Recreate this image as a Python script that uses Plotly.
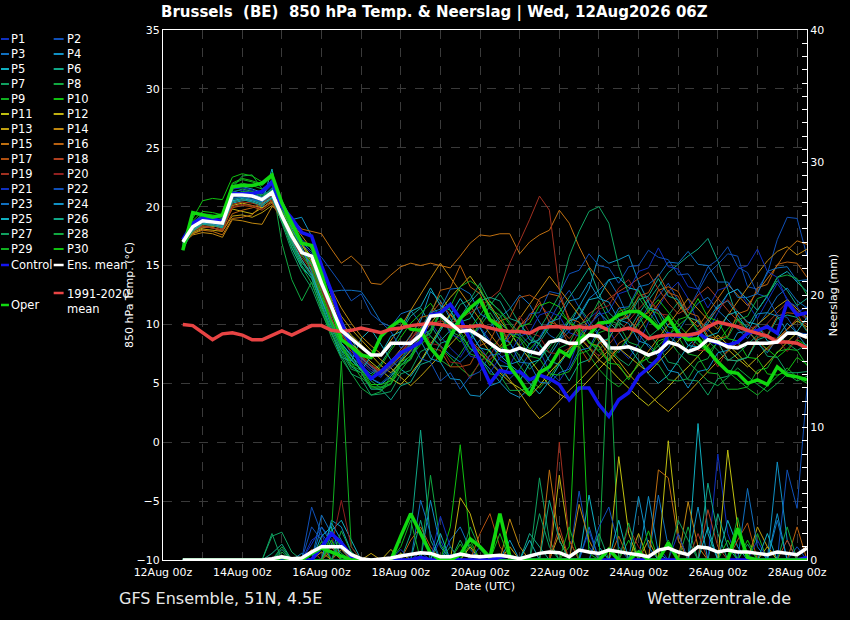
import pandas as pd
import plotly.graph_objects as go

# GFS 06Z run, 6-hourly steps from 12Aug 12z to 28Aug 06z
times = pd.date_range("2026-08-12 12:00", periods=64, freq="6h")

# ---- highlighted series (850 hPa temp, degC) ----
ens_mean = [17.0, 18.3, 18.8, 18.7, 18.6, 21.0, 21.0, 20.9,
            20.6, 21.2, 19.2, 17.5, 16.1, 15.8, 13.5, 11.5,
            9.5, 8.8, 8.1, 7.4, 7.4, 8.4, 8.4, 8.4,
            9.1, 10.7, 10.8, 10.1, 9.4, 9.5, 9.0, 8.4,
            7.8, 7.7, 8.0, 7.7, 7.5, 8.5, 8.7, 8.4,
            8.4, 9.1, 9.0, 8.0, 8.0, 8.1, 7.8, 7.4,
            7.7, 8.5, 8.25, 7.7, 8.0, 8.7, 8.5, 8.1,
            8.0, 8.4, 8.4, 8.4, 8.5, 9.25, 9.25, 8.9]
control = [17.2, 18.6, 19.0, 19.0, 18.7, 21.1, 21.1, 21.1,
           21.3, 22.1, 20.0, 19.0, 17.8, 17.5, 15.0, 12.8,
           10.2, 8.2, 6.5, 5.4, 6.0, 6.8, 7.6, 8.0,
           8.5, 10.8, 11.0, 11.7, 10.5, 8.7, 6.9, 5.0,
           6.1, 5.9, 6.0, 5.3, 5.7, 5.4, 4.9, 3.6,
           4.6, 4.6, 3.2, 2.2, 3.6, 4.2, 5.6, 6.3,
           7.1, 9.2, 9.0, 9.0, 9.3, 8.7, 8.4, 8.25,
           8.5, 9.25, 9.5, 9.8, 9.25, 11.9, 10.8, 11.0]
oper = [16.3, 19.5, 19.3, 19.1, 19.3, 21.7, 21.8, 21.8,
        22.0, 22.7, 20.3, 18.6, 16.9, 16.7, 14.3, 11.5,
        8.7, 8.1, 7.4, 7.2, 9.0, 9.8, 10.4, 9.6,
        9.5, 8.0, 7.0, 9.0, 10.5, 11.4, 12.1, 10.4,
        9.8, 6.4, 5.3, 4.0, 5.9, 6.4, 7.8, 7.3,
        8.8, 9.1, 10.1, 10.2, 10.8, 11.1, 11.1, 10.5,
        9.7, 10.6, 9.25, 8.7, 8.8, 7.8, 6.8, 6.0,
        5.85, 5.0, 5.3, 4.9, 6.4, 5.7, 5.55, 5.3]
clim_1991_2020 = [10.0, 9.9, 9.3, 8.7, 9.2, 9.3, 9.1, 8.7,
                  8.7, 9.1, 9.45, 9.1, 9.5, 9.9, 9.9, 9.5,
                  9.4, 9.5, 9.7, 9.5, 9.3, 9.6, 9.7, 9.9,
                  10.0, 10.1, 10.0, 9.8, 9.8, 9.8, 9.9, 9.7,
                  9.5, 9.4, 9.4, 9.25, 9.7, 9.8, 9.8, 9.7,
                  9.8, 9.7, 9.9, 9.5, 9.5, 9.7, 9.4, 8.8,
                  9.0, 9.1, 9.1, 9.1, 9.25, 9.8, 10.2, 10.0,
                  9.8, 9.5, 9.25, 9.0, 8.5, 8.5, 8.4, 8.0]

# ---- highlighted precipitation (mm / 6h) ----
mean_rain = [0, 0, 0, 0, 0, 0, 0, 0,
             0, 0.1, 0.25, 0.1, 0.15, 0.6, 1.0, 1.0,
             1.0, 0.4, 0.1, 0, 0.05, 0.15, 0.3, 0.45,
             0.55, 0.5, 0.25, 0.25, 0.45, 0.3, 0.25, 0.3,
             0.35, 0.25, 0.1, 0.3, 0.5, 0.6, 0.55, 0.25,
             0.75, 0.6, 0.5, 0.75, 0.6, 0.5, 0.4, 0.25,
             0.75, 0.9, 0.6, 0.4, 1.0, 0.9, 0.6, 0.75,
             0.6, 0.6, 0.5, 0.4, 0.6, 0.5, 0.4, 0.9]
control_rain = [0, 0, 0, 0, 0, 0, 0, 0,
                0, 0, 0, 0, 0, 0, 1.0, 2.0,
                1.3, 0.3, 0, 0, 0, 0, 0, 0,
                0.2, 0, 0, 0.3, 0, 0, 0, 0,
                0.2, 0.3, 0, 0, 0, 0, 0, 0,
                0, 0, 0, 0, 0, 0, 0, 0,
                0, 0, 0, 0, 0, 0, 0, 0,
                0, 0, 0, 0, 0, 0, 0, 0.2]
oper_rain = [0, 0, 0, 0, 0, 0, 0, 0,
             0, 0, 0.2, 0, 0, 0.5, 0.9, 0.6,
             0.3, 0, 0, 0, 0, 0, 1.8, 3.5,
             2.0, 0.5, 0, 0, 0.4, 1.6, 1.0, 0.2,
             3.5, 0.3, 0, 0, 0, 0, 0, 0,
             0, 0, 0, 0.8, 0, 0, 0.6, 0,
             0, 1.3, 0, 0, 0, 0, 0, 0,
             2.4, 0.2, 0, 0, 0, 0, 0, 0]

# ---- perturbation members, 850 hPa temp ----
p01 = [17.2, 18.6, 19.2, 19.0, 18.9, 21.3, 21.4, 21.2, 21.0, 21.8, 19.8, 18.0, 16.5, 15.0, 12.8, 11.0,
       9.0, 7.5, 6.8, 6.0, 5.5, 6.8, 7.5, 8.8, 9.5, 10.2, 9.0, 8.0, 7.2, 8.5, 9.8, 8.6,
       7.0, 6.5, 8.2, 9.0, 7.8, 6.0, 5.2, 6.5, 8.8, 10.5, 11.2, 9.6, 8.0, 7.1, 8.4, 10.2,
       11.5, 12.8, 13.6, 12.2, 10.1, 9.4, 11.0, 12.6, 13.0, 11.8, 10.5, 12.0, 13.5, 12.2, 11.0, 11.5]
p02 = [16.8, 18.2, 18.9, 18.8, 18.5, 20.8, 20.9, 20.7, 20.4, 21.0, 19.5, 17.8, 16.3, 15.4, 13.0, 10.6,
       8.2, 7.0, 6.1, 5.4, 5.0, 5.8, 6.9, 7.7, 8.4, 9.6, 10.8, 11.6, 10.4, 9.2, 8.0, 6.9,
       6.0, 5.4, 6.2, 7.5, 8.9, 10.3, 11.8, 12.9, 11.4, 10.0, 9.1, 8.3, 7.6, 8.8, 10.2, 11.5,
       12.4, 13.5, 12.0, 11.2, 12.8, 14.3, 15.1, 16.0, 15.8, 13.2, 13.0, 14.3, 17.2, 19.1, 19.0, 15.8]
p03 = [17.0, 18.0, 18.5, 18.4, 18.2, 20.5, 20.6, 20.4, 20.0, 20.8, 19.6, 18.4, 17.0, 16.2, 14.6, 12.8,
       12.9, 12.9, 12.8, 11.6, 10.2, 9.8, 10.9, 11.2, 10.1, 9.0, 8.2, 7.4, 6.8, 7.6, 8.7, 9.8,
       10.6, 11.3, 12.5, 11.7, 10.2, 9.1, 8.6, 9.4, 10.8, 12.2, 12.9, 13.8, 12.4, 10.5, 9.2, 8.1,
       7.3, 8.0, 9.4, 10.7, 11.8, 12.3, 11.2, 10.4, 9.6, 8.8, 9.9, 11.0, 12.4, 13.1, 12.0, 11.4]
p04 = [17.1, 18.5, 19.0, 18.9, 18.8, 21.5, 21.7, 21.5, 21.2, 22.3, 20.5, 18.9, 19.1, 17.5, 15.2, 12.5,
       10.4, 8.8, 7.2, 6.4, 6.0, 6.7, 7.9, 9.1, 10.3, 12.8, 12.0, 10.5, 9.1, 8.0, 7.1, 6.2,
       5.1, 4.2, 3.8, 4.6, 6.0, 7.3, 8.5, 9.9, 11.5, 13.0, 15.9, 15.2, 15.5, 15.9, 13.6, 11.9,
       10.2, 9.1, 8.3, 7.7, 8.9, 10.4, 11.6, 12.0, 10.8, 9.6, 8.4, 7.6, 8.9, 10.1, 9.3, 9.0]
p05 = [16.9, 18.1, 18.6, 18.5, 18.3, 20.3, 20.5, 20.6, 20.3, 23.2, 19.0, 16.5, 14.8, 14.0, 11.6, 9.3,
       7.2, 6.9, 8.8, 9.6, 8.3, 7.0, 6.2, 5.6, 6.8, 8.1, 9.5, 10.8, 12.2, 11.0, 9.7, 8.3,
       7.4, 6.6, 5.9, 5.0, 4.1, 5.2, 6.6, 7.8, 8.6, 9.9, 11.0, 10.2, 9.4, 8.1, 6.9, 5.8,
       5.0, 5.7, 6.9, 8.2, 9.0, 10.1, 11.4, 12.6, 13.0, 12.1, 11.2, 12.4, 14.0, 14.5, 13.6, 12.8]
p06 = [16.6, 18.0, 18.7, 18.6, 18.4, 20.9, 21.1, 20.8, 20.6, 21.1, 18.9, 17.0, 15.2, 14.6, 12.1, 10.0,
       8.4, 7.3, 6.5, 5.8, 6.7, 8.0, 9.3, 10.7, 11.4, 10.0, 8.6, 9.5, 10.6, 11.9, 12.8, 11.5,
       10.1, 9.4, 8.0, 7.2, 8.5, 9.8, 11.0, 12.3, 13.5, 14.8, 12.6, 11.0, 10.2, 9.5, 10.9, 12.0,
       13.2, 14.4, 15.1, 15.8, 16.4, 17.3, 15.4, 13.0, 10.4, 9.8, 11.2, 12.5, 13.7, 12.9, 11.6, 12.2]
p07 = [16.4, 17.9, 18.5, 18.5, 18.2, 20.6, 20.8, 20.6, 20.3, 20.9, 18.6, 16.2, 14.4, 13.1, 11.0, 9.2,
       7.8, 7.0, 6.1, 5.2, 4.6, 5.3, 6.8, 8.2, 9.6, 11.1, 12.5, 11.2, 9.8, 8.7, 10.1, 11.6,
       12.7, 11.5, 10.0, 9.1, 8.2, 7.6, 9.0, 10.3, 11.5, 10.4, 9.2, 8.0, 7.1, 6.5, 7.7, 8.9,
       9.6, 10.8, 11.9, 10.7, 9.5, 8.6, 7.8, 6.9, 7.5, 8.3, 9.1, 10.0, 9.2, 8.4, 7.8, 8.3]
p08 = [16.3, 18.2, 19.1, 19.0, 19.2, 21.6, 22.6, 22.7, 21.5, 22.0, 16.9, 13.8, 12.0, 13.6, 11.2, 8.9,
       7.1, 5.8, 4.6, 4.0, 4.3, 5.6, 7.0, 8.4, 9.5, 8.2, 7.0, 6.4, 7.5, 8.8, 9.9, 11.0,
       9.7, 8.4, 7.3, 6.2, 7.0, 8.1, 9.2, 10.5, 9.4, 8.6, 7.8, 8.9, 10.0, 11.2, 12.3, 11.1,
       9.9, 8.7, 7.6, 6.8, 6.0, 5.2, 4.8, 5.5, 6.3, 5.6, 4.9, 4.3, 5.0, 5.8, 5.2, 5.6]
p09 = [16.5, 18.6, 19.4, 19.3, 19.1, 21.9, 22.3, 22.1, 21.8, 22.5, 20.0, 17.9, 16.2, 14.9, 12.3, 9.8,
       8.0, 6.7, 5.5, 4.8, 4.4, 5.0, 6.1, 7.2, 8.3, 9.0, 8.1, 7.2, 6.3, 5.6, 6.7, 7.9,
       8.8, 7.6, 6.5, 5.4, 4.6, 5.5, 6.8, 7.7, 8.5, 7.4, 6.2, 5.3, 4.7, 5.6, 6.5, 7.3,
       8.2, 9.0, 9.9, 10.6, 9.4, 8.1, 6.9, 6.0, 5.3, 4.6, 4.0, 4.8, 5.6, 6.3, 5.5, 5.0]
p10 = [16.6, 19.0, 20.5, 20.7, 20.6, 22.5, 22.8, 22.6, 22.1, 22.4, 20.2, 18.3, 16.8, 15.6, 13.1, 10.4,
       8.3, 7.1, 6.2, 5.6, 6.5, 7.8, 8.9, 10.1, 10.9, 11.8, 10.6, 9.4, 8.5, 9.6, 10.8, 12.0,
       11.1, 10.0, 8.9, 7.9, 8.8, 9.9, 11.0, 10.2, 9.3, 8.5, 7.7, 6.9, 7.8, 8.9, 10.0, 11.2,
       12.1, 11.0, 10.0, 9.1, 8.3, 7.6, 8.5, 9.6, 10.5, 9.4, 8.6, 7.9, 7.2, 7.9, 8.7, 8.2]
p11 = [17.3, 18.0, 18.3, 18.2, 18.0, 20.1, 20.3, 20.1, 19.9, 20.4, 19.0, 17.6, 16.4, 15.1, 13.4, 11.2,
       9.5, 8.4, 7.6, 6.8, 6.1, 5.4, 4.9, 5.8, 6.9, 8.3, 9.7, 10.9, 9.8, 8.7, 7.5, 6.8,
       5.9, 5.1, 4.6, 3.9, 4.8, 5.9, 6.8, 7.9, 8.9, 8.0, 7.0, 6.3, 5.4, 4.6, 3.8, 3.1,
       3.9, 4.7, 5.6, 6.4, 7.3, 8.2, 9.1, 8.3, 7.5, 6.6, 5.8, 6.7, 7.6, 8.5, 9.3, 8.8]
p12 = [17.2, 17.8, 18.2, 18.3, 18.4, 19.8, 19.6, 19.4, 19.9, 20.5, 19.6, 18.2, 16.9, 15.7, 14.1, 12.0,
       10.2, 9.1, 8.3, 7.4, 6.5, 5.9, 6.8, 7.8, 8.9, 10.0, 11.1, 12.3, 13.2, 14.1, 12.9, 11.6,
       10.4, 9.3, 8.2, 7.0, 5.9, 4.8, 4.1, 3.6, 4.4, 5.3, 6.2, 7.1, 8.0, 7.3, 6.6, 5.9,
       6.8, 7.7, 8.6, 9.5, 10.4, 9.6, 8.7, 7.9, 7.1, 6.4, 7.2, 8.0, 8.8, 9.6, 10.3, 9.8]
p13 = [17.0, 17.7, 18.1, 18.0, 17.9, 19.2, 19.3, 19.1, 19.5, 20.1, 19.3, 18.0, 16.8, 15.3, 13.9, 12.2,
       10.7, 9.6, 8.7, 7.8, 7.0, 6.3, 5.5, 4.8, 5.6, 6.5, 7.4, 8.3, 9.2, 10.0, 8.8, 7.6,
       6.4, 5.3, 4.2, 3.0, 2.0, 2.6, 3.5, 4.4, 5.2, 6.1, 7.0, 7.8, 6.9, 5.8, 4.9, 4.1,
       3.3, 2.6, 3.4, 4.2, 5.1, 6.0, 6.9, 7.7, 8.5, 9.2, 10.0, 10.7, 11.5, 12.1, 11.3, 10.6]
p14 = [16.9, 17.6, 17.8, 17.7, 17.4, 18.9, 18.8, 18.6, 18.5, 20.0, 19.8, 18.7, 17.6, 16.4, 14.8, 13.0,
       11.4, 10.1, 9.0, 8.2, 7.5, 8.6, 9.8, 11.2, 12.6, 13.9, 15.2, 14.0, 12.8, 11.5, 10.3, 9.2,
       8.1, 9.3, 10.5, 11.8, 13.0, 14.1, 13.0, 11.9, 10.8, 9.6, 8.5, 7.4, 6.4, 5.5, 6.6, 7.8,
       8.9, 10.0, 11.1, 12.2, 11.3, 10.4, 9.6, 10.8, 12.0, 13.1, 14.3, 15.4, 16.2, 16.6, 15.9, 16.4]
p15 = [17.1, 17.7, 18.0, 17.9, 17.6, 19.0, 19.1, 19.3, 20.2, 21.0, 20.1, 19.0, 18.1, 17.9, 17.7, 16.4,
       15.2, 15.8, 15.0, 13.5, 13.4, 14.2, 14.9, 15.2, 15.0, 15.2, 15.0, 14.8, 15.8, 16.9, 17.6, 17.5,
       17.7, 17.7, 16.0, 17.0, 17.6, 18.0, 19.7, 18.6, 16.6, 14.9, 13.8, 12.7, 11.5, 10.4, 9.5, 10.6,
       11.8, 12.9, 11.7, 10.6, 9.8, 11.0, 12.3, 13.4, 12.5, 11.6, 12.8, 13.9, 15.0, 16.3, 17.1, 16.8]
p16 = [17.0, 17.9, 18.3, 18.2, 17.9, 19.4, 19.7, 19.9, 20.3, 20.7, 19.4, 17.8, 16.4, 15.0, 13.1, 11.0,
       9.2, 8.0, 7.1, 6.5, 6.0, 6.9, 7.9, 9.0, 10.6, 10.8, 12.9, 13.1, 15.0, 13.2, 12.6, 10.5,
       10.1, 8.3, 9.9, 10.5, 12.2, 12.6, 12.4, 10.5, 10.2, 8.4, 8.2, 6.9, 8.4, 8.9, 10.6, 11.0,
       12.9, 13.2, 12.8, 11.0, 10.7, 9.0, 8.8, 9.0, 10.9, 11.2, 13.1, 13.4, 15.1, 15.3, 15.2, 14.0]
p17 = [17.2, 18.1, 18.4, 18.2, 18.0, 19.9, 20.1, 20.0, 19.7, 20.3, 18.8, 17.0, 15.5, 14.3, 12.4, 10.5,
       8.8, 7.7, 6.9, 6.2, 5.7, 6.4, 7.3, 8.3, 9.6, 8.0, 7.8, 6.4, 6.4, 6.6, 8.2, 8.6,
       10.3, 10.6, 12.3, 12.5, 12.0, 10.2, 9.9, 8.2, 8.1, 6.8, 8.4, 8.7, 10.4, 10.7, 12.4, 12.7,
       14.3, 12.7, 12.4, 10.6, 10.3, 8.8, 8.5, 7.0, 6.9, 7.2, 8.9, 9.1, 10.7, 11.0, 10.9, 9.5]
p18 = [17.1, 18.0, 18.5, 18.4, 18.1, 20.2, 20.4, 20.3, 20.1, 20.6, 19.1, 17.3, 15.9, 14.9, 13.0, 11.1,
       9.4, 8.3, 7.4, 6.6, 6.0, 6.7, 7.6, 8.7, 9.8, 10.9, 11.9, 10.8, 9.7, 8.7, 7.8, 7.0,
       7.9, 8.9, 9.9, 10.8, 11.8, 10.7, 9.7, 8.8, 9.8, 10.9, 11.5, 12.2, 12.8, 13.3, 13.9, 14.4,
       13.0, 11.8, 10.9, 11.4, 12.5, 13.2, 12.2, 11.2, 10.3, 9.4, 8.6, 7.8, 8.7, 9.6, 10.5, 10.0]
p19 = [17.0, 17.9, 18.3, 18.2, 18.0, 20.0, 20.2, 20.1, 19.8, 20.5, 19.0, 17.2, 15.7, 14.6, 12.7, 10.8,
       9.1, 8.0, 7.1, 6.4, 5.8, 6.6, 7.5, 8.5, 9.5, 10.0, 10.3, 10.1, 10.5, 11.0, 11.5, 12.2,
       12.9, 15.2, 17.0, 18.9, 20.9, 19.7, 12.9, 10.2, 9.0, 8.1, 7.3, 8.3, 9.3, 10.3, 11.3, 12.2,
       11.2, 10.3, 9.4, 8.6, 9.5, 10.4, 11.3, 12.1, 11.1, 10.1, 9.2, 10.1, 11.0, 11.9, 11.1, 10.4]
p20 = [17.1, 18.2, 18.6, 18.5, 18.3, 20.4, 20.6, 20.5, 20.2, 20.9, 19.3, 17.5, 16.0, 14.7, 12.9, 11.0,
       9.3, 8.2, 7.3, 6.5, 5.9, 6.8, 7.7, 8.7, 10.0, 8.4, 8.2, 6.8, 6.7, 5.4, 6.9, 7.3,
       8.9, 9.2, 10.7, 9.3, 9.0, 7.6, 7.5, 8.0, 9.4, 9.7, 11.3, 11.6, 13.1, 13.8, 12.5, 12.3,
       10.9, 10.8, 9.3, 9.1, 7.8, 7.8, 6.4, 7.9, 8.2, 9.6, 9.9, 9.0, 8.8, 7.7, 8.8, 9.2]
p21 = [17.3, 18.7, 19.3, 19.2, 19.0, 21.5, 21.6, 21.4, 21.1, 21.9, 20.2, 18.4, 16.9, 16.0, 13.8, 11.3,
       9.4, 8.1, 7.0, 6.2, 5.6, 6.3, 7.1, 7.9, 9.1, 9.5, 11.0, 9.2, 8.8, 7.3, 7.1, 5.9,
       7.2, 7.5, 9.0, 9.3, 10.8, 11.1, 10.7, 9.3, 9.0, 9.9, 10.8, 11.1, 12.6, 12.9, 14.5, 14.8,
       16.5, 14.9, 14.7, 13.2, 13.0, 11.4, 12.9, 13.2, 14.7, 15.0, 16.4, 14.5, 14.0, 12.0, 11.5, 10.4]
p22 = [17.0, 18.4, 19.0, 18.9, 18.7, 21.1, 21.2, 21.0, 20.8, 21.5, 20.0, 18.6, 17.2, 16.5, 15.7, 14.5,
       13.4, 12.0, 12.6, 10.9, 10.2, 9.4, 8.0, 8.6, 7.1, 6.8, 5.2, 5.9, 4.5, 5.6, 6.0, 7.4,
       7.5, 9.2, 9.1, 10.9, 11.0, 12.8, 12.6, 14.3, 14.6, 16.0, 15.0, 14.8, 13.5, 14.9, 15.0, 16.3,
       15.7, 15.5, 14.2, 14.3, 13.0, 14.9, 15.5, 16.6, 14.9, 14.4, 12.6, 12.3, 10.8, 10.6, 9.3, 9.2]
p23 = [16.9, 18.1, 18.7, 18.6, 18.4, 20.7, 20.8, 20.6, 20.4, 21.0, 19.4, 17.6, 16.1, 15.1, 13.2, 11.2,
       9.4, 8.2, 7.2, 6.4, 5.7, 6.5, 7.4, 8.4, 9.5, 11.0, 11.3, 13.0, 13.1, 12.6, 10.9, 10.4,
       8.8, 8.5, 6.8, 6.7, 5.1, 5.0, 5.9, 6.2, 7.8, 8.0, 9.6, 9.8, 11.4, 11.5, 13.2, 13.4,
       14.1, 15.3, 15.2, 16.2, 15.1, 15.0, 13.6, 13.6, 12.3, 12.3, 12.6, 14.5, 14.8, 14.9, 13.7, 13.8]
p24 = [17.0, 18.3, 18.9, 18.8, 18.6, 21.0, 21.2, 21.1, 20.8, 21.6, 19.9, 18.1, 16.6, 14.4, 12.0, 9.9,
       8.1, 7.0, 6.1, 5.4, 4.9, 5.6, 6.5, 7.4, 8.6, 7.1, 6.8, 5.4, 5.3, 4.0, 3.9, 4.8,
       5.1, 6.6, 6.9, 8.4, 8.7, 10.2, 10.5, 12.0, 12.2, 13.6, 12.2, 11.9, 10.4, 10.1, 8.6, 8.3,
       7.5, 6.1, 5.9, 4.6, 6.0, 6.2, 7.6, 7.8, 9.3, 9.4, 10.9, 11.0, 10.7, 9.4, 9.2, 8.1]
p25 = [16.8, 18.0, 18.6, 18.5, 18.3, 20.5, 20.7, 20.5, 20.2, 20.8, 19.0, 17.1, 15.5, 14.2, 12.1, 10.2,
       8.4, 7.4, 6.1, 7.3, 7.5, 9.0, 9.4, 11.1, 11.5, 13.1, 11.6, 11.2, 9.7, 9.4, 8.0, 7.8,
       6.5, 6.4, 5.2, 6.7, 7.0, 8.5, 8.8, 10.3, 10.6, 12.1, 12.3, 13.8, 14.0, 13.1, 12.9, 11.4,
       11.2, 9.8, 9.6, 8.2, 8.1, 9.0, 9.3, 10.8, 11.1, 10.2, 10.0, 8.6, 8.4, 9.2, 9.4, 10.6]
p26 = [16.7, 17.9, 18.5, 18.4, 18.2, 20.4, 20.6, 20.4, 20.1, 20.7, 18.7, 16.8, 15.0, 13.9, 11.8, 9.6,
       7.8, 6.4, 5.9, 4.5, 4.5, 3.6, 4.8, 5.1, 6.6, 6.9, 8.4, 8.7, 10.2, 10.5, 12.0, 12.3,
       12.0, 10.5, 10.2, 8.7, 8.4, 6.9, 6.6, 5.2, 6.7, 7.0, 8.5, 8.8, 10.3, 10.6, 12.1, 12.4,
       13.9, 12.4, 12.1, 10.6, 10.3, 8.8, 8.5, 7.0, 6.9, 7.2, 8.7, 9.0, 10.5, 10.8, 10.6, 9.4]
p27 = [16.5, 18.3, 18.9, 18.9, 18.7, 21.2, 21.5, 21.3, 21.0, 21.4, 19.1, 17.0, 15.3, 14.1, 11.8, 9.4,
       7.4, 5.8, 5.4, 4.0, 4.1, 4.3, 5.8, 6.1, 7.7, 8.1, 9.7, 10.1, 11.7, 12.1, 13.5, 11.9,
       11.2, 10.2, 9.2, 8.3, 9.6, 11.0, 12.5, 15.8, 17.9, 19.6, 20.0, 18.6, 14.9, 12.6, 10.8, 9.2,
       8.2, 6.8, 6.6, 5.3, 5.2, 4.0, 5.4, 5.6, 7.0, 7.2, 8.6, 7.3, 7.2, 5.9, 5.9, 6.0]
p28 = [16.4, 18.1, 18.8, 18.8, 18.5, 21.0, 21.3, 21.2, 20.9, 21.3, 18.8, 16.6, 14.9, 13.5, 11.4, 9.2,
       7.6, 6.2, 5.9, 4.6, 4.6, 4.9, 6.5, 7.0, 8.7, 9.2, 11.0, 9.4, 9.0, 7.5, 7.2, 5.8,
       5.7, 4.4, 4.4, 4.6, 6.1, 6.4, 8.0, 8.4, 10.0, 10.4, 12.0, 10.4, 10.0, 8.5, 8.2, 6.8,
       6.6, 5.3, 5.2, 5.4, 6.8, 7.1, 8.6, 8.9, 10.4, 10.7, 12.2, 12.5, 14.0, 14.2, 13.9, 12.5]
p29 = [16.5, 18.5, 19.3, 19.2, 19.0, 21.7, 22.0, 21.8, 21.5, 22.1, 19.7, 17.6, 15.9, 14.7, 12.4, 10.0,
       8.1, 6.5, 6.1, 4.7, 4.7, 5.0, 6.6, 7.1, 8.8, 9.3, 11.0, 11.5, 13.2, 13.7, 13.1, 11.3,
       10.8, 9.2, 8.8, 7.3, 7.1, 5.8, 5.7, 6.0, 7.5, 7.8, 9.3, 9.6, 11.1, 11.4, 12.9, 11.3,
       10.9, 9.3, 9.0, 7.5, 7.3, 5.9, 5.8, 4.5, 4.5, 4.7, 6.1, 6.3, 7.7, 7.9, 7.8, 6.5]
p30 = [16.6, 18.8, 19.6, 19.5, 19.3, 22.0, 22.4, 22.2, 21.9, 22.6, 20.1, 17.9, 16.3, 15.2, 12.7, 10.2,
       8.3, 6.7, 6.3, 4.9, 4.9, 5.2, 6.8, 7.3, 9.0, 9.5, 11.2, 9.7, 9.4, 7.9, 7.8, 6.5,
       8.0, 8.3, 9.8, 10.1, 11.6, 11.9, 11.5, 10.1, 9.8, 8.4, 8.1, 6.7, 6.6, 5.3, 6.8, 7.1,
       8.6, 8.9, 10.4, 10.7, 12.2, 10.6, 10.3, 8.8, 8.6, 7.2, 7.1, 5.8, 5.7, 6.0, 7.2, 6.6]

# ---- perturbation precipitation: (step index, mm), all other steps dry ----
r01 = [(13, 1.2), (14, 2.5), (15, 1.6), (16, 0.8), (26, 1.5), (41, 2.2), (48, 1.0), (54, 8.0), (55, 2.0)]
r02 = [(13, 4.0), (14, 2.0), (15, 1.0), (24, 0.6), (40, 5.2), (41, 1.0), (61, 6.8), (62, 3.9), (63, 13.0)]
r03 = [(14, 3.4), (15, 2.0), (16, 1.0), (27, 1.5), (28, 2.5), (29, 0.8), (48, 4.9), (49, 1.0), (60, 3.0)]
r04 = [(12, 0.5), (15, 3.0), (16, 2.5), (17, 0.6), (25, 4.5), (26, 1.0), (47, 4.8), (48, 0.5), (60, 7.4), (61, 1.5)]
r05 = [(14, 1.0), (15, 2.2), (16, 3.0), (17, 1.5), (41, 4.9), (42, 1.0), (52, 10.3), (53, 2.0), (55, 3.0), (56, 1.0)]
r06 = [(9, 0.5), (10, 1.2), (23, 2.0), (24, 9.8), (25, 1.5), (35, 2.0), (36, 1.0), (53, 5.8), (54, 2.0)]
r07 = [(9, 1.8), (10, 2.1), (11, 0.6), (28, 1.5), (36, 6.2), (37, 1.5), (42, 2.0), (57, 1.2)]
r08 = [(10, 1.0), (15, 1.5), (16, 0.5), (25, 6.4), (26, 1.2), (43, 17.5), (51, 2.5)]
r09 = [(15, 2.0), (16, 15.0), (17, 1.0), (29, 1.2), (45, 1.5), (58, 2.0)]
r10 = [(14, 1.0), (27, 2.5), (28, 8.7), (29, 1.5), (39, 1.0), (40, 17.5), (41, 0.5), (55, 1.5)]
r11 = [(22, 0.5), (29, 1.0), (44, 7.8), (45, 2.0), (49, 9.0), (50, 2.0), (55, 8.3), (56, 2.5)]
r12 = [(21, 0.8), (28, 4.7), (29, 3.5), (30, 1.0), (38, 6.4), (39, 1.5), (46, 2.0), (59, 1.0)]
r13 = [(14, 0.6), (19, 0.5), (33, 1.0), (38, 2.0), (47, 1.5), (58, 2.5), (59, 1.0)]
r14 = [(16, 0.8), (33, 3.1), (34, 1.0), (40, 4.2), (41, 1.5), (51, 4.4), (52, 1.0)]
r15 = [(15, 0.7), (37, 6.8), (38, 1.5), (48, 6.8), (49, 6.2), (50, 1.5)]
r16 = [(14, 1.2), (23, 1.5), (24, 2.5), (25, 1.0), (44, 1.8), (62, 2.5)]
r17 = [(15, 1.0), (30, 2.0), (31, 3.5), (32, 1.0), (56, 1.5), (57, 2.8)]
r18 = [(13, 0.8), (38, 2.5), (53, 3.8), (54, 1.0), (61, 1.5)]
r19 = [(16, 1.2), (38, 8.9), (39, 1.5), (52, 2.0)]
r20 = [(15, 1.0), (16, 4.5), (17, 1.0), (45, 2.5), (46, 1.0)]
r21 = [(13, 1.5), (14, 2.0), (22, 0.8), (26, 3.3), (27, 1.0), (50, 2.0), (58, 1.5)]
r22 = [(13, 2.5), (14, 1.5), (30, 1.0), (42, 2.5), (43, 4.0), (44, 1.0), (62, 1.0)]
r23 = [(14, 2.5), (15, 1.2), (24, 4.5), (25, 2.0), (41, 2.5), (57, 5.4), (58, 1.0)]
r24 = [(15, 2.8), (16, 1.5), (33, 1.5), (46, 4.8), (47, 1.0), (52, 4.0), (60, 3.5)]
r25 = [(14, 1.8), (15, 2.5), (26, 2.0), (35, 1.5), (44, 3.0), (53, 2.5), (59, 2.0)]
r26 = [(10, 0.8), (16, 1.5), (24, 3.0), (37, 4.5), (38, 1.5), (54, 3.5), (55, 1.0)]
r27 = [(9, 2.0), (15, 1.2), (27, 1.0), (36, 3.5), (37, 1.0), (50, 3.0), (51, 1.5)]
r28 = [(10, 0.6), (16, 2.2), (17, 0.6), (29, 2.5), (30, 0.8), (45, 2.8), (61, 2.5)]
r29 = [(14, 1.4), (22, 1.0), (23, 3.0), (39, 2.5), (49, 1.5), (56, 3.2)]
r30 = [(15, 1.5), (28, 1.2), (32, 2.0), (47, 2.2), (57, 1.5)]

# 20-colour cycle of the members (P21..P30 reuse P1..P10)
member_colors = ["#1030c0", "#1050b8", "#1070c0", "#1090c4", "#10b0c0",
                 "#10a888", "#10a060", "#10a840", "#10b020", "#10c010",
                 "#c0c010", "#c0b010", "#c0a010", "#c08810", "#c07010",
                 "#b86010", "#b05010", "#b04020", "#a03020", "#902020"]

temps = [p01, p02, p03, p04, p05, p06, p07, p08, p09, p10,
         p11, p12, p13, p14, p15, p16, p17, p18, p19, p20,
         p21, p22, p23, p24, p25, p26, p27, p28, p29, p30]
rains = [r01, r02, r03, r04, r05, r06, r07, r08, r09, r10,
         r11, r12, r13, r14, r15, r16, r17, r18, r19, r20,
         r21, r22, r23, r24, r25, r26, r27, r28, r29, r30]

CONTROL_C = "#1414f0"
OPER_C = "#10d810"
MEAN_C = "#ffffff"
CLIM_C = "#e84444"

fig = go.Figure()

for k, t in enumerate(temps):
    fig.add_trace(go.Scatter(x=times, y=t, mode="lines", yaxis="y",
                             line=dict(color=member_colors[k % 20], width=1)))

for k, spikes in enumerate(rains):
    rr = [0.0] * len(times)
    for idx, mm in spikes:
        rr[idx] = mm
    fig.add_trace(go.Scatter(x=times, y=rr, mode="lines", yaxis="y2",
                             line=dict(color=member_colors[k % 20], width=1)))

fig.add_trace(go.Scatter(x=times, y=control_rain, mode="lines", yaxis="y2",
                         line=dict(color=CONTROL_C, width=3.5)))
fig.add_trace(go.Scatter(x=times, y=oper_rain, mode="lines", yaxis="y2",
                         line=dict(color=OPER_C, width=3.5)))
fig.add_trace(go.Scatter(x=times, y=mean_rain, mode="lines", yaxis="y2",
                         line=dict(color=MEAN_C, width=3.5)))

fig.add_trace(go.Scatter(x=times, y=control, mode="lines", yaxis="y",
                         line=dict(color=CONTROL_C, width=3.5)))
fig.add_trace(go.Scatter(x=times, y=oper, mode="lines", yaxis="y",
                         line=dict(color=OPER_C, width=3.5)))
fig.add_trace(go.Scatter(x=times, y=clim_1991_2020, mode="lines", yaxis="y",
                         line=dict(color=CLIM_C, width=3.5)))
fig.add_trace(go.Scatter(x=times, y=ens_mean, mode="lines", yaxis="y",
                         line=dict(color=MEAN_C, width=3.5)))

# plot area in pixels: x 163..811, y 30..560
L, R, T, B = 163, 811, 30, 560


def px_x(px):
    return (px - L) / (R - L)


def px_y(py):
    return (B - py) / (B - T)


shapes = []
annotations = []
LEG_FONT = 11.5


def legend_item(col, py, color, text, width=2, anchor="middle"):
    x0, x1, tx = (0, 8, 8.5) if col == 0 else (53, 63, 64)
    shapes.append(dict(type="line", xref="paper", yref="paper",
                       x0=px_x(x0), x1=px_x(x1), y0=px_y(py), y1=px_y(py),
                       line=dict(color=color, width=width)))
    ty = py if anchor == "middle" else py - 8
    annotations.append(dict(xref="paper", yref="paper", x=px_x(tx), y=px_y(ty),
                            xanchor="left", yanchor=anchor, align="left", showarrow=False,
                            text=text, font=dict(size=LEG_FONT, color="white")))


for k in range(30):
    legend_item(k % 2, 39 + 15 * (k // 2), member_colors[k % 20], "P%d" % (k + 1))
legend_item(0, 265, CONTROL_C, "Control", 2.5)
legend_item(1, 265, MEAN_C, "Ens. mean", 2.5)
legend_item(0, 305, OPER_C, "Oper", 2.5)
legend_item(1, 293, CLIM_C, "1991-2020<br>mean", 2.5, anchor="top")

annotations.append(dict(xref="paper", yref="paper", x=px_x(436), y=px_y(12),
                        xanchor="center", yanchor="middle", showarrow=False,
                        text="<b>Brussels\u00a0\u00a0(BE)\u00a0\u00a0850 hPa Temp. &amp; Neerslag | Wed, 12Aug2026 06Z</b>",
                        font=dict(size=15, color="white")))
annotations.append(dict(xref="paper", yref="paper", x=px_x(221), y=px_y(598),
                        xanchor="center", yanchor="middle", showarrow=False,
                        text="GFS Ensemble, 51N, 4.5E", font=dict(size=16, color="#e8e8e8")))
annotations.append(dict(xref="paper", yref="paper", x=px_x(722), y=px_y(598),
                        xanchor="center", yanchor="middle", showarrow=False,
                        text="Wetterzentrale.de", font=dict(size=16, color="#e8e8e8")))

GRID = "#3a3a3a"
DAY_MS = 86400000

fig.update_layout(
    width=850, height=620,
    margin=dict(l=L, r=850 - R, t=T, b=620 - B),
    paper_bgcolor="black", plot_bgcolor="black",
    font=dict(family="DejaVu Sans", size=11, color="white"),
    showlegend=False,
    shapes=shapes,
    annotations=annotations,
    xaxis=dict(type="date", range=["2026-08-12 00:00", "2026-08-28 06:00"],
               tick0="2026-08-12 00:00", dtick=2 * DAY_MS, tickformat="%d%b %Hz",
               showgrid=True, gridcolor=GRID, griddash="dash", gridwidth=1,
               minor=dict(dtick=DAY_MS, showgrid=True, gridcolor=GRID, griddash="dash"),
               showline=True, linecolor="white", linewidth=1, mirror=True,
               ticks="", zeroline=False, ticklabelstandoff=2,
               title=dict(text="Date (UTC)", font=dict(size=11), standoff=4)),
    yaxis=dict(range=[-10, 35], dtick=5, showgrid=True, gridcolor=GRID, griddash="dash",
               showline=True, linecolor="white", linewidth=1, mirror=True,
               ticks="", zeroline=False,
               title=dict(text="850 hPa Temp. (°C)", font=dict(size=11), standoff=0)),
    yaxis2=dict(overlaying="y", side="right", range=[0, 40], dtick=10,
                showgrid=False, zeroline=False, showline=True, linecolor="white",
                ticks="inside", ticklen=5, tickcolor="white",
                minor=dict(dtick=1, ticks="inside", ticklen=5, tickcolor="white"),
                title=dict(text="Neerslag (mm)", font=dict(size=11), standoff=6)),
)

# drop the browser's default page margin so the 850x620 figure fills the window
fig.write_html("out.html", config={"displayModeBar": False},
               post_script="document.body.style.margin='0';")
